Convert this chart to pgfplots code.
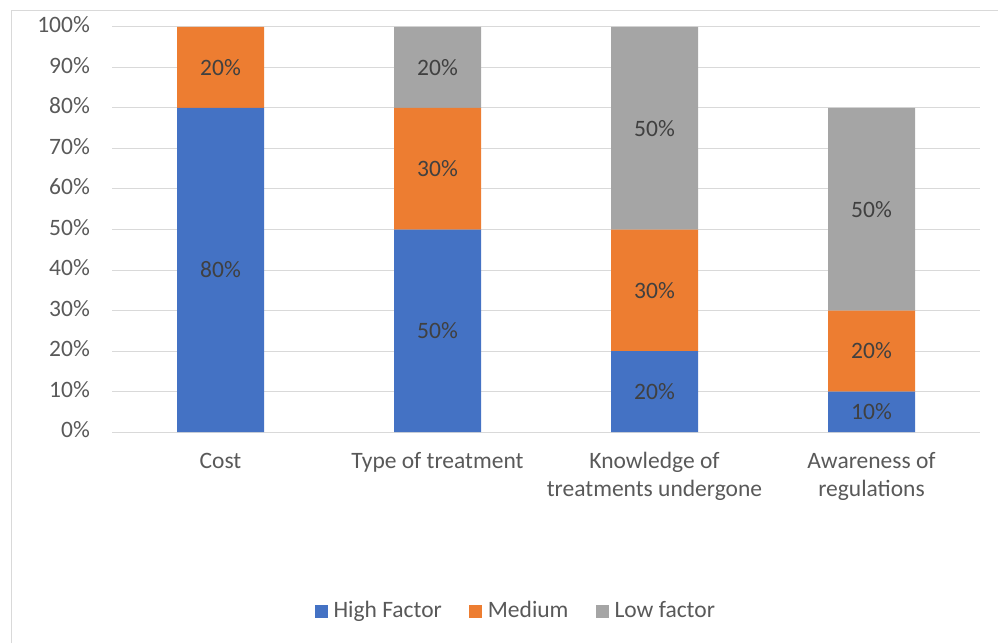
\documentclass[border=0pt]{standalone}
\usepackage{pgfplots}
\pgfplotsset{compat=1.18}
\usepackage{fontspec}
\setmainfont{Carlito}
\definecolor{hi}{HTML}{4472C4}
\definecolor{med}{HTML}{ED7D31}
\definecolor{lo}{HTML}{A5A5A5}
\definecolor{gridc}{HTML}{D9D9D9}
\definecolor{txt}{HTML}{595959}
\definecolor{lbl}{HTML}{404040}

\pgfplotsset{
  base/.style={
    at={(112pt,211pt)}, anchor=south west,
    scale only axis, width=868pt, height=405pt,
    xmin=-0.5, xmax=3.5, ymin=0, ymax=100,
  },
}

\begin{document}
\fontsize{23.5}{28}\selectfont
\begin{tikzpicture}[x=1pt,y=1pt]
\path[use as bounding box] (0,0) rectangle (998,643);
\draw[gridc, line width=1pt] (11,0) -- (11,632) -- (998,632);

\begin{axis}[
  base,
  ybar stacked, bar width=87pt,
  axis x line*=bottom, axis y line*=left,
  y axis line style={draw=none},
  x axis line style={gridc, line width=1pt},
  major tick length=0pt,
  ymajorgrids, grid style={gridc, line width=1pt},
  ytick={0,10,...,100},
  yticklabels={0\%,10\%,20\%,30\%,40\%,50\%,60\%,70\%,80\%,90\%,100\%},
  yticklabel style={text=txt, inner sep=0pt, xshift=-22pt},
  xtick={0,1,2,3},
  xticklabels={Cost,Type of treatment,{Knowledge of\\treatments undergone},{Awareness of\\regulations}},
  typeset ticklabels with strut,
  xticklabel style={text=txt, align=center, anchor=north, inner sep=0pt, yshift=-17pt},
  legend columns=3,
  legend style={draw=none, at={(0.464,-0.442)}, anchor=center, text=txt,
    nodes={inner sep=0pt},
    /tikz/every odd column/.append style={column sep=6pt},
    /tikz/every even column/.append style={column sep=27pt}},
  legend image code/.code={\fill[#1,draw=none] (0pt,-6.5pt) rectangle (13pt,6.5pt);},
]
\addplot[fill=hi, draw=none] coordinates {(0,80) (1,50) (2,20) (3,10)};
\addplot[fill=med, draw=none] coordinates {(0,20) (1,30) (2,30) (3,20)};
\addplot[fill=lo, draw=none] coordinates {(0,0) (1,20) (2,50) (3,50)};
\legend{High Factor,Medium,Low factor}
\end{axis}

\begin{axis}[
  base, hide axis,
  nodes near coords, point meta=explicit symbolic,
  every node near coord/.style={anchor=center, text=lbl, inner sep=0pt},
]
\addplot[draw=none, mark=none] coordinates {
  (0,40) [80\%] (0,90) [20\%]
  (1,25) [50\%] (1,65) [30\%] (1,90) [20\%]
  (2,10) [20\%] (2,35) [30\%] (2,75) [50\%]
  (3,5) [10\%] (3,20) [20\%] (3,55) [50\%]
};
\end{axis}
\end{tikzpicture}
\end{document}
